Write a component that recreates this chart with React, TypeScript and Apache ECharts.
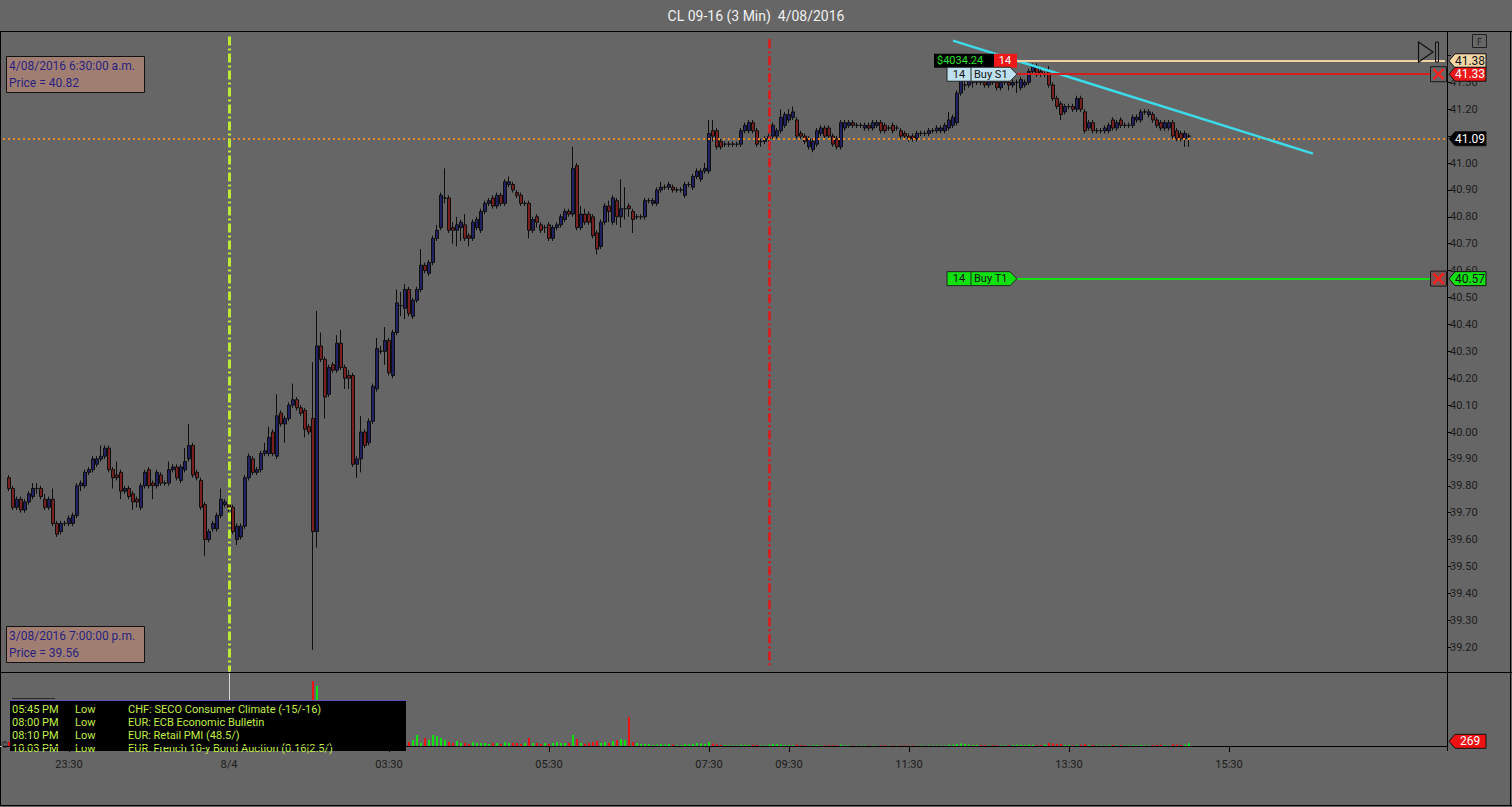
import React, { useEffect, useRef } from 'react';
import * as echarts from 'echarts';

const chartTitle = 'CL 09-16 (3 Min)  4/08/2016';

// one row per 3 min bar: [open, close, low, high]
const candles: number[][] = [
  [39.83, 39.79, 39.78, 39.84], [39.79, 39.72, 39.71, 39.80], [39.72, 39.75, 39.71, 39.76], [39.75, 39.71, 39.70, 39.76], [39.71, 39.74, 39.70, 39.75],
  [39.74, 39.77, 39.73, 39.78], [39.76, 39.79, 39.75, 39.81], [39.79, 39.79, 39.77, 39.81], [39.79, 39.76, 39.75, 39.80], [39.75, 39.72, 39.71, 39.77],
  [39.72, 39.75, 39.71, 39.76], [39.75, 39.66, 39.65, 39.79], [39.66, 39.62, 39.61, 39.67], [39.63, 39.66, 39.62, 39.67], [39.66, 39.66, 39.65, 39.67],
  [39.66, 39.68, 39.65, 39.69], [39.66, 39.69, 39.65, 39.70], [39.69, 39.80, 39.68, 39.81], [39.80, 39.81, 39.78, 39.82], [39.80, 39.85, 39.79, 39.86],
  [39.85, 39.86, 39.84, 39.87], [39.86, 39.90, 39.85, 39.91], [39.88, 39.90, 39.87, 39.91], [39.90, 39.91, 39.89, 39.95], [39.91, 39.94, 39.90, 39.95],
  [39.94, 39.86, 39.85, 39.95], [39.86, 39.83, 39.79, 39.87], [39.84, 39.83, 39.82, 39.89], [39.85, 39.78, 39.75, 39.86], [39.78, 39.79, 39.77, 39.80],
  [39.79, 39.76, 39.75, 39.80], [39.77, 39.74, 39.71, 39.78], [39.75, 39.74, 39.72, 39.76], [39.72, 39.80, 39.71, 39.81], [39.80, 39.85, 39.79, 39.86],
  [39.86, 39.80, 39.79, 39.87], [39.81, 39.80, 39.75, 39.82], [39.80, 39.85, 39.79, 39.86], [39.84, 39.81, 39.80, 39.85], [39.81, 39.81, 39.80, 39.82],
  [39.81, 39.86, 39.80, 39.89], [39.86, 39.87, 39.85, 39.88], [39.87, 39.83, 39.82, 39.88], [39.82, 39.87, 39.81, 39.88], [39.86, 39.89, 39.85, 39.94],
  [39.90, 39.95, 39.89, 40.03], [39.95, 39.84, 39.83, 39.96], [39.85, 39.83, 39.82, 39.86], [39.82, 39.72, 39.71, 39.83], [39.73, 39.60, 39.54, 39.74],
  [39.60, 39.63, 39.59, 39.64], [39.64, 39.66, 39.63, 39.67], [39.64, 39.69, 39.63, 39.70], [39.69, 39.75, 39.68, 39.79], [39.73, 39.74, 39.72, 39.75],
  [39.73, 39.72, 39.70, 39.75], [39.72, 39.63, 39.62, 39.73], [39.60, 39.65, 39.58, 39.66], [39.61, 39.65, 39.60, 39.66], [39.65, 39.83, 39.64, 39.84],
  [39.83, 39.91, 39.82, 39.92], [39.90, 39.85, 39.84, 39.91], [39.85, 39.86, 39.84, 39.87], [39.86, 39.92, 39.85, 39.93], [39.92, 39.93, 39.91, 39.96],
  [39.92, 39.98, 39.91, 40.02], [40.00, 39.92, 39.91, 40.01], [39.91, 40.06, 39.90, 40.14], [40.07, 40.03, 40.02, 40.08], [40.03, 40.05, 39.96, 40.06],
  [40.05, 40.10, 40.04, 40.11], [40.10, 40.12, 40.09, 40.18], [40.12, 40.09, 40.08, 40.13], [40.09, 40.07, 40.06, 40.10], [40.08, 40.01, 39.98, 40.09],
  [40.02, 40.00, 39.99, 40.03], [40.05, 39.63, 39.19, 40.26], [39.63, 40.32, 39.57, 40.45], [40.32, 40.27, 40.26, 40.37], [40.27, 40.13, 40.05, 40.28],
  [40.14, 40.24, 40.13, 40.25], [40.25, 40.23, 40.22, 40.26], [40.23, 40.33, 40.22, 40.36], [40.33, 40.24, 40.23, 40.38], [40.24, 40.20, 40.16, 40.25],
  [40.21, 40.20, 40.16, 40.23], [40.21, 39.88, 39.87, 40.22], [39.88, 39.90, 39.83, 39.91], [39.90, 40.00, 39.85, 40.06], [40.00, 39.95, 39.94, 40.01],
  [39.96, 40.04, 39.95, 40.05], [40.04, 40.17, 40.03, 40.18], [40.16, 40.31, 40.15, 40.35], [40.30, 40.30, 40.29, 40.32], [40.30, 40.34, 40.25, 40.39],
  [40.34, 40.22, 40.21, 40.35], [40.21, 40.37, 40.20, 40.38], [40.37, 40.48, 40.36, 40.53], [40.47, 40.47, 40.43, 40.52], [40.46, 40.53, 40.42, 40.55],
  [40.53, 40.44, 40.43, 40.54], [40.43, 40.49, 40.42, 40.50], [40.49, 40.53, 40.48, 40.54], [40.53, 40.62, 40.52, 40.68], [40.62, 40.60, 40.59, 40.63],
  [40.59, 40.63, 40.58, 40.64], [40.63, 40.72, 40.62, 40.73], [40.72, 40.75, 40.71, 40.77], [40.76, 40.88, 40.75, 40.89], [40.87, 40.87, 40.85, 40.98],
  [40.87, 40.75, 40.74, 40.88], [40.76, 40.75, 40.70, 40.78], [40.75, 40.77, 40.69, 40.80], [40.76, 40.78, 40.71, 40.79], [40.77, 40.72, 40.71, 40.81],
  [40.73, 40.72, 40.69, 40.74], [40.72, 40.78, 40.71, 40.79], [40.76, 40.79, 40.75, 40.80], [40.75, 40.82, 40.74, 40.83], [40.82, 40.85, 40.81, 40.86],
  [40.85, 40.86, 40.84, 40.87], [40.87, 40.84, 40.83, 40.88], [40.84, 40.88, 40.83, 40.89], [40.88, 40.85, 40.84, 40.89], [40.85, 40.93, 40.84, 40.94],
  [40.92, 40.93, 40.91, 40.95], [40.92, 40.90, 40.89, 40.93], [40.89, 40.88, 40.87, 40.90], [40.88, 40.85, 40.84, 40.89], [40.85, 40.85, 40.84, 40.86],
  [40.85, 40.75, 40.72, 40.86], [40.75, 40.79, 40.74, 40.80], [40.80, 40.78, 40.76, 40.81], [40.77, 40.75, 40.74, 40.78], [40.76, 40.76, 40.74, 40.77],
  [40.77, 40.72, 40.71, 40.78], [40.72, 40.76, 40.71, 40.77], [40.76, 40.77, 40.75, 40.78], [40.77, 40.80, 40.76, 40.81], [40.79, 40.82, 40.78, 40.83],
  [40.82, 40.81, 40.80, 40.83], [40.81, 40.98, 40.80, 41.06], [40.99, 40.76, 40.75, 41.00], [40.76, 40.81, 40.75, 40.84], [40.81, 40.78, 40.77, 40.83],
  [40.81, 40.78, 40.77, 40.82], [40.80, 40.73, 40.72, 40.81], [40.74, 40.68, 40.66, 40.75], [40.69, 40.78, 40.68, 40.79], [40.78, 40.84, 40.77, 40.85],
  [40.84, 40.82, 40.78, 40.86], [40.78, 40.87, 40.77, 40.88], [40.86, 40.80, 40.77, 40.87], [40.80, 40.83, 40.76, 40.94], [40.83, 40.83, 40.79, 40.91],
  [40.84, 40.83, 40.80, 40.85], [40.82, 40.79, 40.74, 40.83], [40.80, 40.80, 40.79, 40.81], [40.80, 40.80, 40.79, 40.81], [40.80, 40.86, 40.79, 40.87],
  [40.86, 40.86, 40.85, 40.87], [40.85, 40.86, 40.84, 40.87], [40.85, 40.90, 40.84, 40.91], [40.90, 40.91, 40.89, 40.93], [40.91, 40.91, 40.90, 40.92],
  [40.91, 40.92, 40.90, 40.93], [40.91, 40.90, 40.89, 40.92], [40.90, 40.90, 40.89, 40.91], [40.90, 40.90, 40.89, 40.91], [40.88, 40.92, 40.87, 40.93],
  [40.92, 40.92, 40.91, 40.93], [40.91, 40.95, 40.90, 40.96], [40.95, 40.97, 40.94, 40.98], [40.94, 40.97, 40.93, 40.98], [40.97, 40.98, 40.96, 41.00],
  [40.97, 41.11, 40.96, 41.16], [41.12, 41.10, 41.08, 41.16], [41.12, 41.06, 41.05, 41.13], [41.08, 41.06, 41.05, 41.09], [41.07, 41.07, 41.06, 41.08],
  [41.07, 41.07, 41.06, 41.08], [41.07, 41.07, 41.06, 41.08], [41.07, 41.07, 41.06, 41.08], [41.07, 41.12, 41.06, 41.13], [41.12, 41.14, 41.11, 41.15],
  [41.12, 41.15, 41.11, 41.16], [41.15, 41.12, 41.11, 41.16], [41.12, 41.07, 41.06, 41.13], [41.08, 41.08, 41.06, 41.09], [41.08, 41.09, 41.07, 41.10],
  [41.09, 41.10, 41.08, 41.11], [41.10, 41.14, 41.09, 41.15], [41.10, 41.12, 41.09, 41.13], [41.12, 41.17, 41.11, 41.20], [41.14, 41.18, 41.13, 41.19],
  [41.16, 41.18, 41.15, 41.20], [41.17, 41.19, 41.16, 41.21], [41.16, 41.10, 41.09, 41.17], [41.11, 41.10, 41.09, 41.12], [41.10, 41.08, 41.07, 41.11],
  [41.06, 41.09, 41.05, 41.10], [41.05, 41.08, 41.04, 41.09], [41.07, 41.12, 41.06, 41.13], [41.11, 41.13, 41.10, 41.14], [41.13, 41.10, 41.09, 41.14],
  [41.13, 41.10, 41.09, 41.14], [41.10, 41.07, 41.06, 41.11], [41.09, 41.06, 41.05, 41.10], [41.06, 41.15, 41.05, 41.16], [41.13, 41.15, 41.12, 41.16],
  [41.14, 41.15, 41.13, 41.16], [41.15, 41.14, 41.13, 41.16], [41.14, 41.14, 41.13, 41.15], [41.14, 41.14, 41.13, 41.15], [41.13, 41.14, 41.12, 41.15],
  [41.14, 41.13, 41.12, 41.15], [41.13, 41.15, 41.12, 41.16], [41.14, 41.15, 41.13, 41.16], [41.15, 41.12, 41.11, 41.16], [41.14, 41.12, 41.11, 41.15],
  [41.13, 41.13, 41.12, 41.14], [41.14, 41.12, 41.11, 41.15], [41.13, 41.13, 41.12, 41.14], [41.12, 41.10, 41.09, 41.13], [41.11, 41.10, 41.09, 41.12],
  [41.10, 41.09, 41.08, 41.11], [41.10, 41.09, 41.08, 41.11], [41.09, 41.11, 41.08, 41.12], [41.11, 41.11, 41.10, 41.12], [41.11, 41.11, 41.10, 41.12],
  [41.11, 41.12, 41.10, 41.13], [41.12, 41.12, 41.11, 41.13], [41.12, 41.13, 41.11, 41.14], [41.12, 41.13, 41.11, 41.14], [41.12, 41.14, 41.11, 41.15],
  [41.13, 41.16, 41.12, 41.19], [41.14, 41.17, 41.13, 41.18], [41.15, 41.26, 41.14, 41.27], [41.26, 41.31, 41.25, 41.33], [41.29, 41.29, 41.27, 41.31],
  [41.29, 41.31, 41.28, 41.32], [41.30, 41.30, 41.28, 41.32], [41.30, 41.32, 41.29, 41.33], [41.32, 41.30, 41.29, 41.33], [41.30, 41.29, 41.28, 41.31],
  [41.29, 41.31, 41.28, 41.32], [41.31, 41.30, 41.29, 41.32], [41.30, 41.28, 41.27, 41.31], [41.28, 41.30, 41.27, 41.31], [41.30, 41.30, 41.29, 41.31],
  [41.30, 41.29, 41.27, 41.31], [41.29, 41.30, 41.28, 41.31], [41.30, 41.30, 41.26, 41.31], [41.28, 41.31, 41.27, 41.32], [41.29, 41.30, 41.28, 41.31],
  [41.30, 41.34, 41.29, 41.35], [41.34, 41.36, 41.33, 41.37], [41.36, 41.33, 41.32, 41.37], [41.34, 41.33, 41.32, 41.35], [41.33, 41.33, 41.32, 41.34],
  [41.34, 41.29, 41.28, 41.36], [41.29, 41.24, 41.23, 41.30], [41.24, 41.21, 41.20, 41.25], [41.22, 41.18, 41.16, 41.23], [41.19, 41.21, 41.18, 41.22],
  [41.21, 41.21, 41.20, 41.22], [41.21, 41.20, 41.19, 41.22], [41.20, 41.24, 41.19, 41.25], [41.24, 41.20, 41.19, 41.25], [41.19, 41.12, 41.11, 41.20],
  [41.13, 41.15, 41.12, 41.16], [41.15, 41.12, 41.11, 41.16], [41.12, 41.12, 41.11, 41.13], [41.12, 41.12, 41.11, 41.13], [41.12, 41.13, 41.11, 41.14],
  [41.12, 41.14, 41.11, 41.15], [41.16, 41.13, 41.12, 41.17], [41.13, 41.15, 41.12, 41.16], [41.16, 41.14, 41.13, 41.17], [41.14, 41.14, 41.13, 41.15],
  [41.14, 41.14, 41.13, 41.15], [41.14, 41.17, 41.13, 41.18], [41.16, 41.17, 41.15, 41.18], [41.16, 41.19, 41.15, 41.20], [41.19, 41.19, 41.18, 41.20],
  [41.18, 41.19, 41.17, 41.20], [41.18, 41.16, 41.15, 41.19], [41.16, 41.14, 41.13, 41.17], [41.15, 41.13, 41.12, 41.16], [41.13, 41.15, 41.12, 41.16],
  [41.13, 41.15, 41.12, 41.16], [41.15, 41.10, 41.09, 41.16], [41.12, 41.09, 41.08, 41.13], [41.11, 41.09, 41.08, 41.12], [41.09, 41.11, 41.06, 41.12],
  [41.10, 41.10, 41.06, 41.11],
];

const volumes: number[] = [
  420, 380, 260, 300, 240, 310, 350, 200, 280, 330,
  260, 520, 480, 300, 180, 220, 260, 640, 300, 420,
  260, 380, 300, 350, 410, 560, 380, 240, 470, 200,
  260, 310, 200, 590, 420, 380, 300, 360, 240, 180,
  400, 220, 300, 350, 380, 620, 700, 300, 650, 980,
  420, 300, 380, 460, 220, 260, 600, 520, 340, 900,
  620, 380, 220, 450, 300, 520, 480, 880, 420, 360,
  400, 420, 300, 260, 500, 280, 6500, 6000, 1400, 1600,
  1100, 500, 900, 800, 700, 450, 2200, 1200, 1000, 700,
  800, 1200, 1300, 400, 700, 900, 1000, 1000, 400, 600,
  400, 600, 1100, 300, 800, 600, 1100, 1000, 800, 600,
  400, 300, 500, 300, 300, 200, 400, 300, 300, 300,
  200, 300, 300, 200, 400, 300, 300, 300, 200, 300,
  800, 300, 300, 200, 300, 200, 300, 400, 300, 300,
  300, 1100, 700, 300, 200, 300, 400, 500, 300, 400,
  300, 500, 600, 700, 600, 2900, 400, 300, 200, 200,
  200, 100, 150, 200, 150, 200, 150, 100, 100, 200,
  150, 200, 300, 250, 200, 400, 250, 150, 100, 100,
  80, 60, 60, 150, 120, 100, 120, 100, 80, 60,
  120, 200, 200, 150, 100, 80, 100, 150, 80, 60,
  60, 80, 100, 60, 50, 60, 80, 60, 150, 60,
  50, 40, 30, 40, 60, 50, 40, 30, 40, 50,
  30, 40, 30, 40, 50, 30, 40, 30, 40, 30,
  40, 50, 60, 40, 60, 150, 120, 200, 250, 200,
  150, 100, 120, 100, 80, 60, 80, 60, 80, 60,
  80, 100, 150, 120, 100, 150, 120, 80, 100, 150,
  300, 250, 200, 200, 100, 80, 60, 100, 120, 200,
  80, 100, 60, 50, 60, 80, 100, 60, 80, 50,
  40, 80, 60, 100, 60, 50, 80, 100, 120, 80,
  60, 180, 150, 100, 120, 269,
];

// bar slot -> time label
const timeTicks = [
  { index: 16, label: '23:30' },
  { index: 56, label: '8/4' },
  { index: 96, label: '03:30' },
  { index: 136, label: '05:30' },
  { index: 176, label: '07:30' },
  { index: 196, label: '09:30' },
  { index: 226, label: '11:30' },
  { index: 266, label: '13:30' },
  { index: 306, label: '15:30' },
];

const slotCount = 361;
const priceMin = 39.1;
const priceMax = 41.5;
const priceStep = 0.1;
// axis labels fully hidden behind price tags in the original
const coveredPriceLabels = ['41.40', '41.10'];
const volumeMax = 7500;
const lastPrice = 41.09;

const trendLine = [[237, 41.455], [327, 41.035]];
const markerLines = [
  { index: 56, from: 41.47, to: 39.11, color: '#bcea34', width: 3 },
  { index: 191, from: 41.46, to: 39.13, color: '#e01818', width: 2.5 },
];

const orderStart = 253;
const orders = [
  { price: 41.38, label: '41.38', line: '#efd1a2', tag: '#f4d7a8', text: '#111', cancel: '' },
  { price: 41.33, label: '41.33', line: '#d41f1f', tag: '#ee1818', text: '#fff', cancel: '#666666' },
  { price: 40.57, label: '40.57', line: '#16dc16', tag: '#10e010', text: '#111', cancel: '#7a5252' },
];

const events = [
  ['05:45 PM', 'Low', 'CHF: SECO Consumer Climate (-15/-16)'],
  ['08:00 PM', 'Low', 'EUR: ECB Economic Bulletin'],
  ['08:10 PM', 'Low', 'EUR: Retail PMI (48.5/)'],
  ['10:03 PM', 'Low', 'EUR: French 10-y Bond Auction (0.16|2.5/)'],
];

const infoBoxes = [
  { top: 56, lines: ['4/08/2016 6:30:00 a.m.', 'Price = 40.82'] },
  { top: 626, lines: ['3/08/2016 7:00:00 p.m.', 'Price = 39.56'] },
];

const FONT = 'Roboto, "Open Sans", sans-serif';

const App: React.FC = () => {
  const chartRef = useRef<HTMLDivElement>(null);

  useEffect(() => {
    if (!chartRef.current) return;
    const chart = echarts.init(chartRef.current, null, { renderer: 'svg' });

    const categories = Array.from({ length: slotCount }, (_, i) => String(i));
    const tickMap = new Map(timeTicks.map(t => [t.index, t.label]));
    const candleData = candles.map((c, i) => [i + 1, ...c]);
    const volumeData = volumes.map((v, i) => ({
      value: [i + 1, v],
      itemStyle: { color: candles[i][1] >= candles[i][0] ? '#12e012' : '#ee1212' }
    }));

    const priceMarks: any[] = [
      { yAxis: lastPrice, lineStyle: { color: '#e8892a', type: [2, 3], width: 2 } },
      ...markerLines.map(m => [
        { coord: [m.index, m.from], lineStyle: { color: m.color, width: m.width, type: [9, 3, 2, 3] } },
        { coord: [m.index, m.to] }
      ]),
      [
        { coord: trendLine[0], lineStyle: { color: '#3ddbea', width: 2.5, type: 'solid' } },
        { coord: trendLine[1] }
      ],
      ...orders.map(o => [
        { coord: [orderStart, o.price], lineStyle: { color: o.line, width: 2, type: 'solid' } },
        { coord: [slotCount - 1, o.price] }
      ])
    ];

    chart.setOption({
      animation: false,
      backgroundColor: '#666666',
      grid: [
        { left: 3, width: 1444, top: 28.5, height: 645.6 },
        { left: 3, width: 1444, top: 671, height: 75 }
      ],
      xAxis: [
        {
          type: 'category', gridIndex: 0, data: categories,
          axisLine: { show: false }, axisTick: { show: false }, axisLabel: { show: false }
        },
        {
          type: 'category', gridIndex: 1, data: categories, offset: 5, z: 200,
          axisLine: { show: true, lineStyle: { color: '#000', width: 1 } },
          axisTick: {
            show: true, alignWithLabel: true, length: 6,
            interval: (i: number) => tickMap.has(i),
            lineStyle: { color: '#000' }
          },
          axisLabel: {
            interval: (i: number) => tickMap.has(i),
            formatter: (_v: string, i: number) => tickMap.get(i) ?? '',
            color: '#1c1c1c', fontSize: 11, fontFamily: FONT, margin: 8
          }
        }
      ],
      yAxis: [
        {
          type: 'value', gridIndex: 0, position: 'right',
          min: priceMin, max: priceMax, interval: priceStep,
          axisLine: { show: false },
          axisTick: { show: true, length: 4, lineStyle: { color: '#000' } },
          splitLine: { show: false },
          axisLabel: {
            color: '#1c1c1c', fontSize: 11, fontFamily: FONT, margin: 3,
            showMinLabel: false, showMaxLabel: false,
            formatter: (v: number) => {
              const s = v.toFixed(2);
              return coveredPriceLabels.includes(s) ? '' : s;
            }
          }
        },
        {
          type: 'value', gridIndex: 1, position: 'right', min: 0, max: volumeMax,
          axisLine: { show: false }, axisTick: { show: false },
          axisLabel: { show: false }, splitLine: { show: false }
        }
      ],
      series: [
        {
          type: 'candlestick',
          xAxisIndex: 0, yAxisIndex: 0,
          data: candleData,
          encode: { x: 0, y: [1, 2, 3, 4] },
          barWidth: 3,
          itemStyle: {
            color: '#1f2163', color0: '#7a1f1f',
            borderColor: '#0e0e0e', borderColor0: '#0e0e0e', borderWidth: 1
          },
          markLine: {
            silent: true, symbol: ['none', 'none'], label: { show: false },
            data: priceMarks
          }
        },
        {
          type: 'bar',
          xAxisIndex: 1, yAxisIndex: 1,
          data: volumeData,
          barWidth: 2,
          markLine: {
            silent: true, symbol: ['none', 'none'], label: { show: false },
            lineStyle: { color: '#d8d8d8', width: 1, type: 'solid' },
            data: [[{ coord: [markerLines[0].index, volumeMax] }, { coord: [markerLines[0].index, 0] }]]
          }
        }
      ]
    });

    const py = (p: number) => chart.convertToPixel({ yAxisIndex: 0 }, p) as number;
    const px = (i: number) => chart.convertToPixel({ xAxisIndex: 0 }, i) as number;
    const vy = (v: number) => chart.convertToPixel({ yAxisIndex: 1 }, v) as number;

    const Z = 100;
    const els: any[] = [];
    const text = (x: number, y: number, t: string, fill: string, size = 11, align = 'left', z = Z + 3) =>
      els.push({
        type: 'text', x, y, z,
        style: { text: t, fill, fontSize: size, fontFamily: FONT, align, verticalAlign: 'middle' }
      });
    const line = (x1: number, y1: number, x2: number, y2: number, stroke: string, w = 1, z = Z) =>
      els.push({ type: 'line', z, shape: { x1, y1, x2, y2 }, style: { stroke, lineWidth: w } });

    // title and frame
    text(756, 16, chartTitle, '#f0f0f0', 14, 'center');
    line(0, 31.5, 1512, 31.5, '#000');
    line(0, 672.5, 1512, 672.5, '#000');
    line(0, 805.5, 1512, 805.5, '#000');
    line(0.5, 31, 0.5, 806, '#000');
    line(1510.5, 31, 1510.5, 806, '#000');
    line(1447.5, 31, 1447.5, 751, '#000');
    line(0, vy(0) + 0.5, 1447, vy(0) + 0.5, '#c8c8c8');

    // price tag on the axis
    const tag = (y: number, label: string, fill: string, color: string) => {
      const x0 = 1449;
      els.push({
        type: 'polygon', z: Z + 1,
        shape: { points: [[x0, y], [x0 + 6, y - 7], [x0 + 37, y - 7], [x0 + 37, y + 7], [x0 + 6, y + 7]] },
        style: { fill, stroke: '#111', lineWidth: 1 }
      });
      text(x0 + 21, y, label, color, 12, 'center');
    };

    orders.forEach(o => tag(py(o.price), o.label, o.tag, o.text));
    tag(py(lastPrice), lastPrice.toFixed(2), '#000', '#fff');
    tag(vy(volumes[volumes.length - 1]) - 2, String(volumes[volumes.length - 1]), '#ee1212', '#fff');

    // cancel boxes
    orders.filter(o => o.cancel).forEach(o => {
      const y = py(o.price);
      els.push({ type: 'rect', z: Z + 1, shape: { x: 1430.5, y: y - 7.5, width: 16, height: 15 }, style: { fill: o.cancel, stroke: '#1a1a1a', lineWidth: 1 } });
      line(1433.5, y - 5, 1443.5, y + 5, '#ff2020', 2.5, Z + 2);
      line(1443.5, y - 5, 1433.5, y + 5, '#ff2020', 2.5, Z + 2);
    });

    // play marker and F box
    els.push({ type: 'polygon', z: Z, shape: { points: [[1418.5, 42], [1433, 52], [1418.5, 62]] }, style: { fill: 'none', stroke: '#111', lineWidth: 1.2 } });
    els.push({ type: 'rect', z: Z, shape: { x: 1435.5, y: 42, width: 3, height: 20 }, style: { fill: 'none', stroke: '#111', lineWidth: 1 } });
    els.push({ type: 'rect', z: Z, shape: { x: 1472.5, y: 34.5, width: 14, height: 13 }, style: { fill: 'none', stroke: '#222', lineWidth: 1 } });
    text(1479.5, 41.5, 'F', '#222', 9, 'center');

    // order flags
    const xe = px(orderStart);
    const yPos = py(orders[0].price);
    els.push({ type: 'rect', z: Z + 1, shape: { x: xe - 83, y: yPos - 7, width: 60, height: 14 }, style: { fill: '#000' } });
    text(xe - 80, yPos, '$4034.24', '#2ee02e', 11);
    els.push({ type: 'rect', z: Z + 1, shape: { x: xe - 23, y: yPos - 7, width: 23, height: 14 }, style: { fill: '#ee1818' } });
    text(xe - 12, yPos, '14', '#fff', 11, 'center');

    const flag = (price: number, name: string, fill: string) => {
      const y = py(price);
      const xs = xe - 70;
      els.push({
        type: 'polygon', z: Z + 2,
        shape: { points: [[xs, y - 7], [xe - 7, y - 7], [xe, y], [xe - 7, y + 7], [xs, y + 7]] },
        style: { fill, stroke: '#222', lineWidth: 1 }
      });
      line(xs + 24, y - 7, xs + 24, y + 7, '#222', 1, Z + 2);
      text(xs + 12, y, '14', '#111', 11, 'center');
      text(xs + 27, y, name, '#111', 11);
    };
    flag(orders[1].price, 'Buy S1', '#bfe0ee');
    flag(orders[2].price, 'Buy T1', '#10e010');

    // crosshair read-outs
    infoBoxes.forEach(b => {
      els.push({ type: 'rect', z: Z, shape: { x: 6.5, y: b.top + 0.5, width: 138, height: 36 }, style: { fill: '#a07f72', stroke: '#111', lineWidth: 1 } });
      b.lines.forEach((t, k) => text(9, b.top + 10 + k * 17, t, '#2a1f80', 12));
    });

    // economic calendar box
    els.push({ type: 'rect', z: Z, shape: { x: 10, y: 700, width: 396, height: 51 }, style: { fill: '#000' } });
    line(10, 700.5, 406, 700.5, '#5a52b8', 1, Z + 1);
    line(12, 698.5, 55, 698.5, '#2a2a2a');
    events.forEach((e, k) => {
      const y = 709 + k * 13;
      text(12, y, e[0], '#c2ee48', 11);
      text(75, y, e[1], '#c2ee48', 11);
      text(128, y, e[2], '#c2ee48', 11);
    });
    text(1, 745, '©', '#222', 9);

    chart.setOption({ graphic: { elements: els } });

    return () => {
      chart.dispose();
    };
  }, []);

  return (
    <div
      ref={chartRef}
      style={{ position: 'fixed', left: 0, top: 0, width: '1512px', height: '807px' }}
    />
  );
};

export default App;
